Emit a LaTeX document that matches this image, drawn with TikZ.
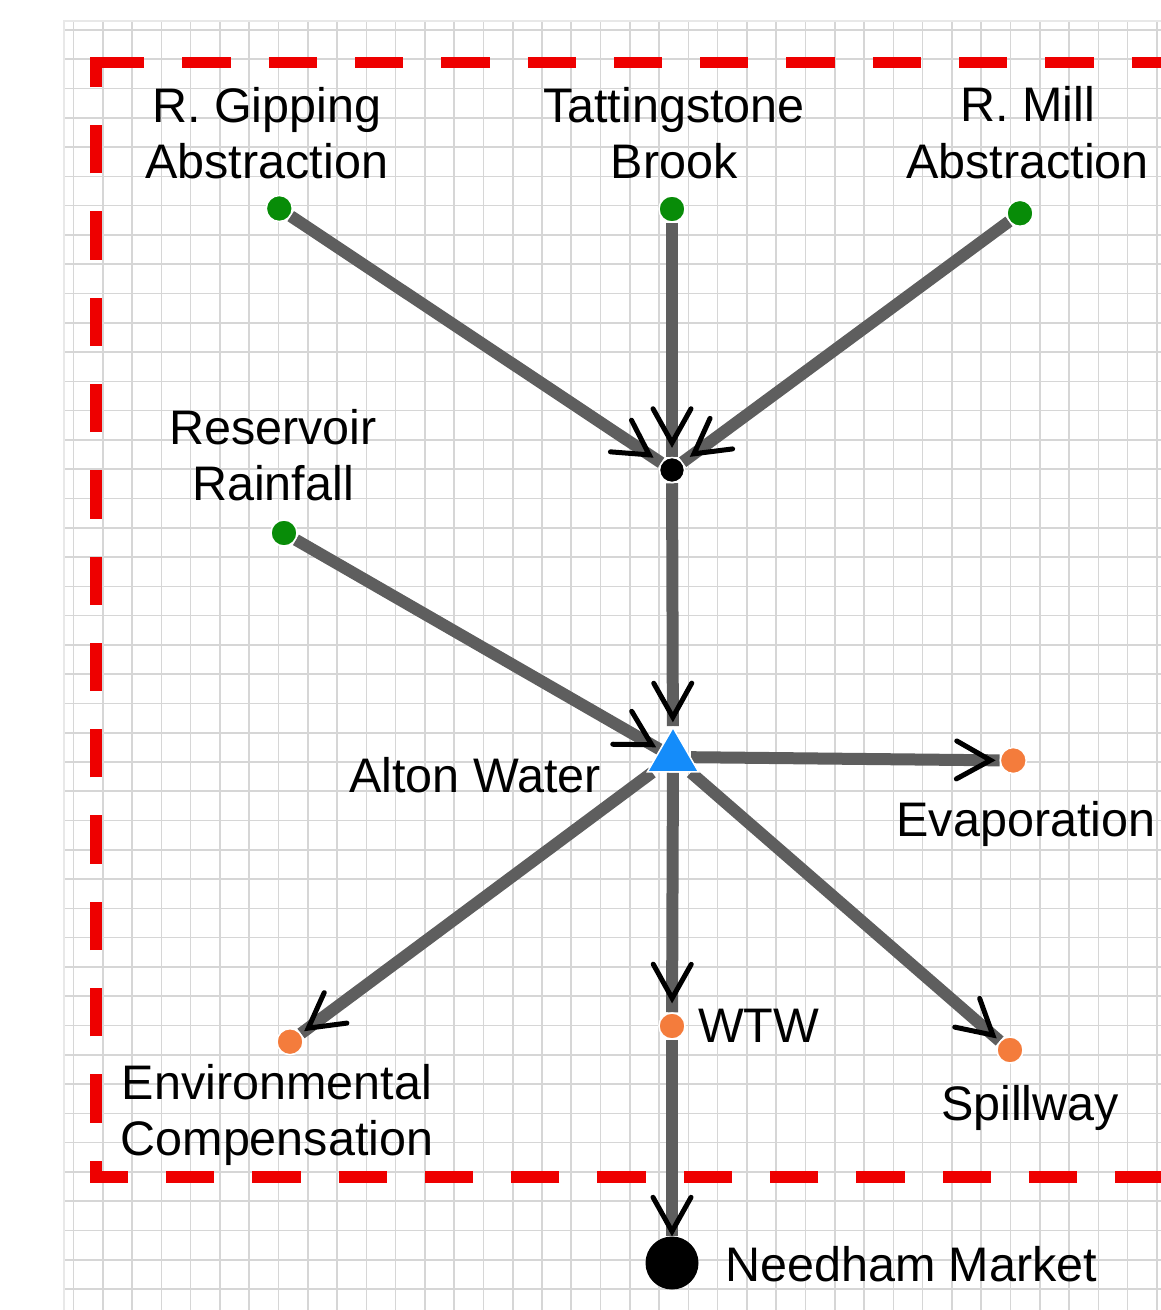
\documentclass[tikz,border=0pt]{standalone}
\usepackage{fontspec}
\setmainfont{Liberation Sans}
\usetikzlibrary{shapes.geometric,decorations.markings}
\definecolor{gridc}{RGB}{214,214,214}
\definecolor{gridedge}{RGB}{232,232,232}
\definecolor{dashred}{RGB}{238,0,0}
\definecolor{flowgray}{RGB}{94,94,94}
\definecolor{dotgreen}{RGB}{8,140,8}
\definecolor{dotorange}{RGB}{244,124,60}
\definecolor{triblue}{RGB}{20,140,250}
\pgfdeclarelayer{bg}
\pgfsetlayers{bg,main}
\begin{document}
\begin{tikzpicture}[x=1pt,y=-1pt,
  gridline/.style={draw=gridc, line width=1.6pt},
  redline/.style={draw=dashred, line width=11.5pt, line cap=butt, line join=miter, dash pattern=on 48.3pt off 38pt},
  flow/.style={line width=12pt, draw=flowgray,
    postaction={decorate, decoration={markings,
      mark=at position -#1 with {\draw[black, line width=5pt, line cap=round, line join=miter] (-34pt,-19pt) -- (0pt,0pt) -- (-34pt,19pt);}}}},
  flow/.default=9pt,
  dot/.style={circle, inner sep=0pt, minimum size=26pt, draw=white, line width=1.5pt},
  src/.style={dot, fill=dotgreen},
  snk/.style={dot, fill=dotorange},
  lbl/.style={inner sep=0pt, font=\fontsize{48.5}{56.6}\selectfont, align=center},
]
\useasboundingbox (0,0) rectangle (1161,1310);

% nodes
\node[src] (gip) at (279.3,208.5) {};
\node[src] (tat) at (672,209) {};
\node[src] (mill) at (1020,213.3) {};
\node[circle, inner sep=0pt, minimum size=25pt, fill=black, draw=white, line width=1.5pt] (junc) at (672,470) {};
\node[src] (rain) at (284,533) {};
\node[regular polygon, regular polygon sides=3, inner sep=0pt, minimum size=59pt, fill=triblue, draw=white, line width=1.5pt] (alton) at (673,757) {};
\node[snk] (evap) at (1013.3,760.5) {};
\node[snk] (wtw) at (672,1026) {};
\node[snk] (env) at (290,1041.7) {};
\node[snk] (spill) at (1010,1050) {};
\node[circle, inner sep=0pt, minimum size=53pt, fill=black] (need) at (672,1263) {};

% labels
\node[lbl, anchor=north] (tGip) at (266.7,87) {R. Gipping\\Abstraction};
\node[lbl, anchor=north] (tTat) at (674,87) {Tattingstone\\Brook};
\node[lbl, anchor=north] (tMill) at (1027.5,86.5) {R. Mill\\Abstraction};
\node[lbl, anchor=north] (tRain) at (273,409) {Reservoir\\Rainfall};
\node[lbl, anchor=base east] (tAlton) at (601,792.7) {Alton Water};
\node[lbl, anchor=base] (tEvap) at (1026,836) {Evaporation};
\node[lbl, anchor=base west] (tWTW) at (698,1042) {WTW};
\node[lbl, anchor=north] (tEnv) at (277,1064) {Environmental\\Compensation};
\node[lbl, anchor=base] (tSpill) at (1030,1120) {Spillway};
\node[lbl, anchor=base west] (tNeed) at (725,1281) {Needham Market};

\begin{pgfonlayer}{bg}
  % grid
  \foreach \i in {0,...,37} {
    \draw[gridline] ({73.5+\i*29.28},21) -- ({73.5+\i*29.28},1310);
  }
  \foreach \j in {0,...,43} {
    \draw[gridline] (64,{30+\j*29.28}) -- (1161,{30+\j*29.28});
  }
  \draw[draw=gridedge, line width=1.5pt] (64,1310) -- (64,21) -- (1161,21);
  % dashed boundary
  \draw[redline] (96,62.5) -- (1200,62.5);
  \draw[redline, dash phase=49.8pt] (1200,1177) -- (96,1177) -- (96,57);
  % flows
  \draw[flow=14pt] (gip) -- (junc);
  \draw[flow=14pt] (tat) -- (junc);
  \draw[flow=14pt] (mill) -- (junc);
  \draw[flow] (junc) -- (alton);
  \draw[flow] (rain) -- (alton);
  \draw[flow] (alton) -- (evap);
  \draw[flow] (alton) -- (env);
  \draw[flow=14pt] (alton) -- (wtw);
  \draw[flow] (alton) -- (spill);
  \draw[flow=5pt] (wtw) -- (need);
\end{pgfonlayer}
\end{tikzpicture}
\end{document}
